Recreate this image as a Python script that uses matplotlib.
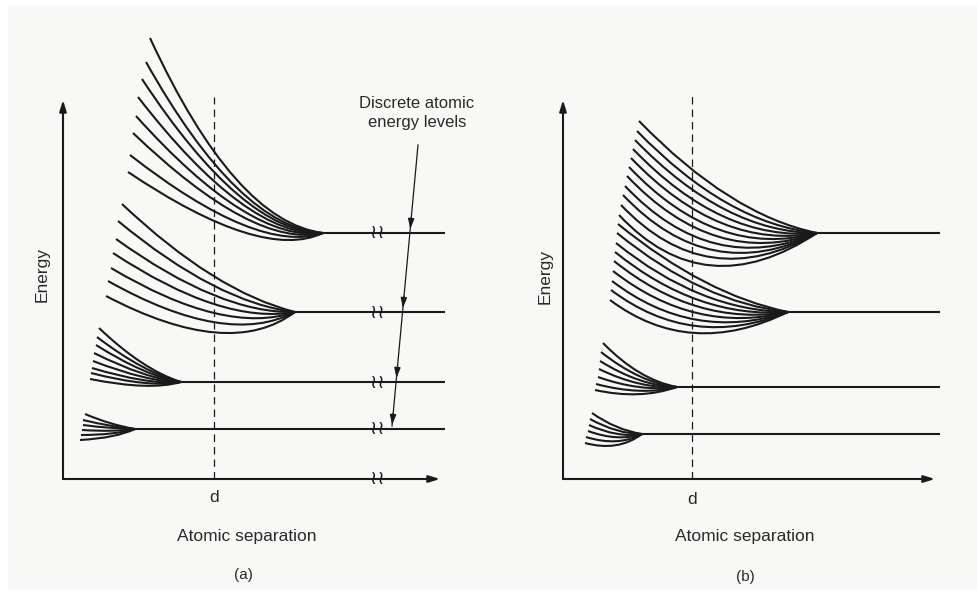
import matplotlib.pyplot as plt
from matplotlib.patches import PathPatch, Rectangle
from matplotlib.path import Path

INK = "#1a1a1a"
TEXT = "#2a2a2a"
PAPER = "#f8f8f6"

# ---- panel (a): widely separated atomic levels -------------------------
# units: separation / energy measured from the axis corner
A_LEVEL_E = [246, 167, 97, 50]
A_MERGE_S = [260, 232, 118, 72]
A_LEVEL_END_S = 382
A_AXIS_TOP_E = 379
A_AXIS_END_S = 377
A_D_S = 151
A_D_TOP_E = 382
A_BREAK_S = 314

# each split line: start point and one Bezier control point
A1_START_S = [87, 83, 79, 75, 73, 70, 67, 65]
A1_START_E = [441, 417, 400, 382, 363, 346, 324, 307]
A1_CTRL_S = [172, 176, 180, 184, 187, 191, 195, 199]
A1_CTRL_E = [257, 251, 246, 241, 236, 230, 224, 217]

A2_START_S = [59, 55, 53, 50, 48, 45, 43]
A2_START_E = [275, 258, 240, 226, 211, 198, 183]
A2_CTRL_S = [152, 154, 157, 159, 162, 164, 167]
A2_CTRL_E = [187, 176, 165, 154, 143, 131, 118]

A3_START_S = [36, 34, 33, 31, 30, 29, 28, 27]
A3_START_E = [151, 142, 134, 126, 118, 111, 106, 100]
A3_CTRL_S = [80, 81, 82, 83, 84, 85, 86, 87]
A3_CTRL_E = [109, 106, 103, 100, 97, 94, 91, 88]

A4_START_S = [22, 20, 20, 19, 18, 17]
A4_START_E = [65, 59, 54, 49, 44, 39]
A4_CTRL_S = [48, 49, 50, 51, 52, 53]
A4_CTRL_E = [54, 52, 50, 47, 44, 41]

# pointer from the "Discrete atomic energy levels" note
A_NOTE_LINE_S = [355, 329]
A_NOTE_LINE_E = [334, 53]

# ---- panel (b): bands broadened and overlapping ------------------------
B_LEVEL_E = [246, 167, 92, 45]
B_MERGE_S = [254, 225, 114, 79]
B_LEVEL_END_S = 377
B_AXIS_TOP_E = 379
B_AXIS_END_S = 372
B_D_S = 129
B_D_TOP_E = 384

B1_START_S = [76, 74, 72, 70, 68, 66, 64, 62, 60, 58, 56]
B1_START_E = [358, 348, 339, 330, 321, 312, 303, 293, 284, 274, 264]
B1_CTRL_S = [167, 164, 162, 159, 157, 154, 152, 149, 147, 144, 142]
B1_CTRL_E = [264, 255, 246, 237, 228, 219, 210, 201, 192, 183, 172]

B2_START_S = [55, 54, 53, 52, 51, 50, 49, 48, 47]
B2_START_E = [255, 246, 236, 227, 218, 208, 198, 189, 179]
B2_CTRL_S = [142, 140, 137, 135, 133, 132, 130, 129, 127]
B2_CTRL_E = [184, 176, 168, 160, 152, 144, 136, 128, 119]

B3_START_S = [40, 38, 37, 36, 35, 33, 32]
B3_START_E = [136, 127, 118, 110, 102, 95, 89]
B3_CTRL_S = [76, 77, 77, 77, 77, 78, 77]
B3_CTRL_E = [99, 96, 93, 90, 87, 83, 79]

B4_START_S = [29, 27, 26, 25, 23, 22]
B4_START_E = [66, 60, 54, 48, 42, 36]
B4_CTRL_S = [53, 54, 54, 55, 55, 55]
B4_CTRL_E = [49, 45, 41, 37, 32, 27]

plt.rcParams["font.family"] = ["Liberation Sans", "DejaVu Sans"]

W, H = 977, 591


def _panel_axes(fig, corner_x, corner_y):
    # full-figure axes, 1 data unit = 1 pixel, origin at the axis corner
    ax = fig.add_axes([0, 0, 1, 1])
    ax.set_xlim(-corner_x, W - corner_x)
    ax.set_ylim(corner_y - H, corner_y)
    ax.axis("off")
    ax.patch.set_alpha(0)
    return ax


def _arrow(ax, tail, tip, lw=1.5, scale=12):
    ax.annotate("", xy=tip, xytext=tail,
                arrowprops=dict(arrowstyle="-|>,head_length=0.55,head_width=0.17",
                                color=INK, lw=lw, shrinkA=0, shrinkB=0,
                                mutation_scale=scale))


def _fan(ax, start_s, start_e, ctrl_s, ctrl_e, merge_s, level_e):
    for s0, e0, cs, ce in zip(start_s, start_e, ctrl_s, ctrl_e):
        path = Path([(s0, e0), (cs, ce), (merge_s, level_e)],
                    [Path.MOVETO, Path.CURVE3, Path.CURVE3])
        ax.add_patch(PathPatch(path, fill=False, edgecolor=INK, lw=1.5,
                               capstyle="butt"))


def _frame(ax, axis_top, axis_end, d_s, d_top, labels):
    _arrow(ax, (0, 0), (0, axis_top))
    _arrow(ax, (0, 0), (axis_end, 0))
    ax.plot([d_s, d_s], [0, d_top], color=INK, lw=0.9, dashes=(6, 4))
    d_lbl, sep_xy, tag_xy, tag, en_xy = labels
    ax.text(d_s, d_lbl, "d", ha="center", va="center", fontsize=12.5, color=TEXT)
    ax.text(*sep_xy, "Atomic separation", ha="center", va="center",
            fontsize=12.5, color=TEXT)
    ax.text(*tag_xy, tag, ha="center", va="center", fontsize=11, color=TEXT)
    ax.text(*en_xy, "Energy", ha="center", va="center", rotation=90,
            fontsize=12.5, color=TEXT)


def _levels(ax, level_e, merge_s, end_s):
    for e, s in zip(level_e, merge_s):
        ax.plot([s, end_s], [e, e], color=INK, lw=1.5, solid_capstyle="butt")


fig = plt.figure(figsize=(W / 100, H / 100), dpi=100)
fig.patch.set_facecolor("white")
fig.patches.append(Rectangle((8 / W, 3 / H), 1 - 8 / W, 582 / H,
                             transform=fig.transFigure, color=PAPER, zorder=-10))

# panel (a)
ax_a = _panel_axes(fig, 63, 479)
_frame(ax_a, A_AXIS_TOP_E, A_AXIS_END_S, A_D_S, A_D_TOP_E,
       (-19, (184, -58), (180, -96), "(a)", (-21, 204)))
_levels(ax_a, A_LEVEL_E, A_MERGE_S, A_LEVEL_END_S)
for fan, merge_s, level_e in zip(
        [(A1_START_S, A1_START_E, A1_CTRL_S, A1_CTRL_E),
         (A2_START_S, A2_START_E, A2_CTRL_S, A2_CTRL_E),
         (A3_START_S, A3_START_E, A3_CTRL_S, A3_CTRL_E),
         (A4_START_S, A4_START_E, A4_CTRL_S, A4_CTRL_E)],
        A_MERGE_S, A_LEVEL_E):
    _fan(ax_a, *fan, merge_s, level_e)

for e in A_LEVEL_E + [0]:
    ax_a.text(A_BREAK_S, e, "\u2240\u2240", ha="center", va="center",
              fontsize=14, family="DejaVu Sans", color=INK)

ax_a.text(354, 366, "Discrete atomic\nenergy levels", ha="center", va="center",
          fontsize=12, linespacing=1.35, color=TEXT,
          family=["Liberation Sans Narrow", "Liberation Sans", "DejaVu Sans"])
ax_a.plot(A_NOTE_LINE_S, A_NOTE_LINE_E, color=INK, lw=0.9)
(s0, s1), (e0, e1) = A_NOTE_LINE_S, A_NOTE_LINE_E
for e in A_LEVEL_E:
    tip_e = e + 4
    tail_e = e + 16
    tip_s = s0 + (s1 - s0) * (tip_e - e0) / (e1 - e0)
    tail_s = s0 + (s1 - s0) * (tail_e - e0) / (e1 - e0)
    _arrow(ax_a, (tail_s, tail_e), (tip_s, tip_e), lw=0.9, scale=11)

# panel (b)
ax_b = _panel_axes(fig, 563, 479)
_frame(ax_b, B_AXIS_TOP_E, B_AXIS_END_S, B_D_S, B_D_TOP_E,
       (-20, (182, -58), (182, -98), "(b)", (-18, 202)))
_levels(ax_b, B_LEVEL_E, B_MERGE_S, B_LEVEL_END_S)
for fan, merge_s, level_e in zip(
        [(B1_START_S, B1_START_E, B1_CTRL_S, B1_CTRL_E),
         (B2_START_S, B2_START_E, B2_CTRL_S, B2_CTRL_E),
         (B3_START_S, B3_START_E, B3_CTRL_S, B3_CTRL_E),
         (B4_START_S, B4_START_E, B4_CTRL_S, B4_CTRL_E)],
        B_MERGE_S, B_LEVEL_E):
    _fan(ax_b, *fan, merge_s, level_e)

fig.savefig("out.png", dpi=100, facecolor=fig.get_facecolor())
